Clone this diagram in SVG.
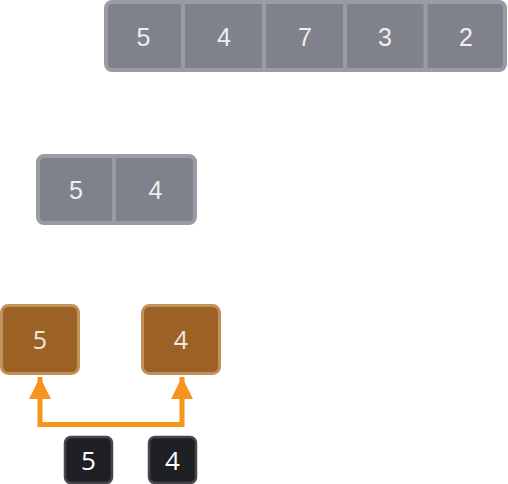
<svg xmlns="http://www.w3.org/2000/svg" width="508" height="484" viewBox="0 0 508 484">
<style>
.arr{fill:#80828b;stroke:#9a9ca3;stroke-width:4}
.div{stroke:#9a9ca3;stroke-width:4}
.gt{font-family:"Liberation Sans",Arial,sans-serif;font-size:25px;fill:#eeeeee;text-anchor:middle;dominant-baseline:central}
.br{fill:#9c6225;stroke:#c0915a;stroke-width:3}
.dk{fill:#1f2023;stroke:#45474c;stroke-width:2.5}
.bt{font-family:"Open Sans",sans-serif;font-size:25px;fill:#f0e8e0;text-anchor:middle;dominant-baseline:central}
.dt{font-family:"Open Sans",sans-serif;font-size:26px;fill:#ffffff;text-anchor:middle;dominant-baseline:central}
.con{fill:none;stroke:#f7941d;stroke-width:5}
</style>
<defs>
<marker id="ah" viewBox="0 0 10 10" refX="10" refY="5" markerWidth="4.4" markerHeight="4.4" orient="auto" markerUnits="strokeWidth">
<path d="M0,0L10,5L0,10z" fill="#f7941d"/>
</marker>
</defs>
<g id="top-array">
<rect class="arr" x="106" y="2" width="399" height="68" rx="6"/>
<line class="div" x1="183" y1="4" x2="183" y2="68"/>
<line class="div" x1="264" y1="4" x2="264" y2="68"/>
<line class="div" x1="345" y1="4" x2="345" y2="68"/>
<line class="div" x1="425.5" y1="4" x2="425.5" y2="68"/>
<text class="gt" x="143.5" y="37">5</text>
<text class="gt" x="224" y="37">4</text>
<text class="gt" x="305" y="37">7</text>
<text class="gt" x="385" y="37">3</text>
<text class="gt" x="466" y="37">2</text>
</g>
<g id="mid-array">
<rect class="arr" x="38" y="156" width="157" height="67" rx="6"/>
<line class="div" x1="114" y1="158" x2="114" y2="221"/>
<text class="gt" x="76" y="190">5</text>
<text class="gt" x="155.5" y="190">4</text>
</g>
<g id="node-b5">
<rect class="br" x="1.5" y="305.5" width="77" height="68" rx="7"/>
<text class="bt" x="40" y="339">5</text>
</g>
<g id="node-b4">
<rect class="br" x="142.5" y="305.5" width="77" height="68" rx="7"/>
<text class="bt" x="181" y="339">4</text>
</g>
<g id="node-d5">
<rect class="dk" x="65" y="437" width="47" height="46" rx="6"/>
<text class="dt" x="88.5" y="460">5</text>
</g>
<g id="node-d4">
<rect class="dk" x="149" y="437" width="47" height="46" rx="6"/>
<text class="dt" x="172.5" y="460">4</text>
</g>
<g id="connectors">
<path class="con" d="M111,424.5H40V377" marker-end="url(#ah)"/>
<path class="con" d="M111,424.5H182V377" marker-end="url(#ah)"/>
</g>
</svg>
